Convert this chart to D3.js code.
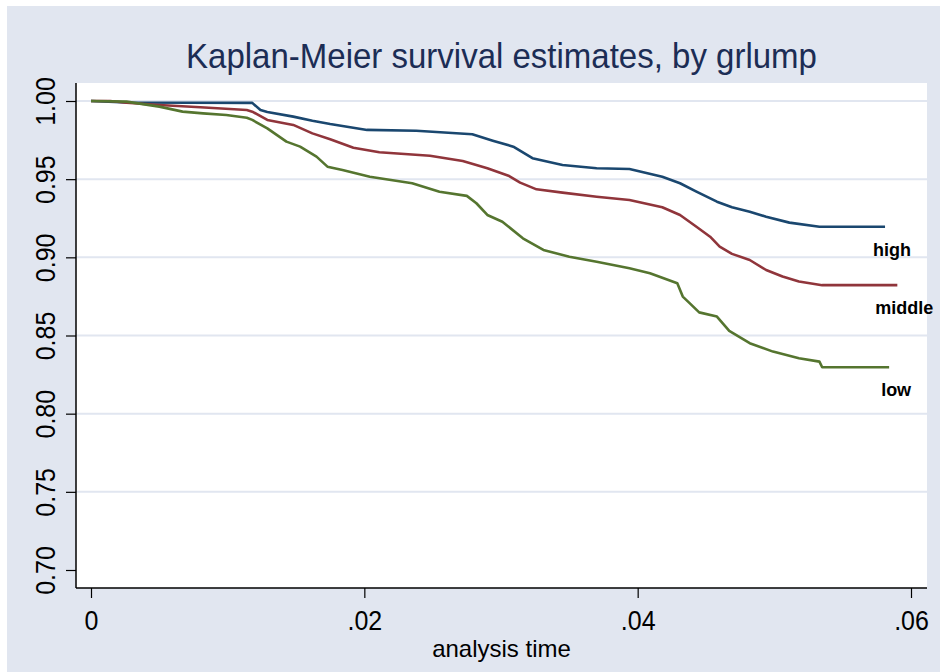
<!DOCTYPE html>
<html>
<head>
<meta charset="utf-8">
<script src="https://cdn.jsdelivr.net/npm/d3@7"></script>
<style>
  body { margin: 0; background: #fff; }
  svg { display: block; }
</style>
</head>
<body>
<div id="km_chart"></div>
<script>
// Survival estimates, by group
const groups = ['high', 'middle', 'low']

const highTime = [0, 0.0026, 0.0118, 0.0124, 0.0129, 0.0148, 0.0162, 0.0175, 0.0202, 0.0238,
  0.0279, 0.0294, 0.0309, 0.0323, 0.0345, 0.0370, 0.0394, 0.0418, 0.0431, 0.0443,
  0.0458, 0.0469, 0.0482, 0.0494, 0.0511, 0.0533, 0.0581]
const highSurv = [1, 0.9990, 0.9988, 0.9942, 0.9930, 0.9900, 0.9874, 0.9853, 0.9815, 0.9810,
  0.9787, 0.9746, 0.9708, 0.9634, 0.9591, 0.9570, 0.9565, 0.9516, 0.9474, 0.9420,
  0.9356, 0.9320, 0.9292, 0.9260, 0.9222, 0.9196, 0.9196]

const middleTime = [0, 0.0014, 0.0026, 0.0050, 0.0080, 0.0114, 0.0118, 0.0129, 0.0148, 0.0162,
  0.0175, 0.0192, 0.0211, 0.0248, 0.0272, 0.0290, 0.0306, 0.0314, 0.0326, 0.0345,
  0.0370, 0.0394, 0.0418, 0.0431, 0.0443, 0.0453, 0.0460, 0.0469, 0.0482, 0.0494,
  0.0506, 0.0518, 0.0535, 0.0590]
const middleSurv = [1, 1, 0.9989, 0.9974, 0.9960, 0.9942, 0.9932, 0.9879, 0.9847, 0.9793,
  0.9755, 0.9701, 0.9672, 0.9650, 0.9616, 0.9570, 0.9520, 0.9478, 0.9435, 0.9414,
  0.9388, 0.9367, 0.9320, 0.9271, 0.9196, 0.9132, 0.9068, 0.9022, 0.8983, 0.8919,
  0.8877, 0.8845, 0.8822, 0.8822]

const lowTime = [0, 0.0026, 0.0050, 0.0067, 0.0082, 0.0099, 0.0114, 0.0118, 0.0129, 0.0143,
  0.0153, 0.0165, 0.0173, 0.0184, 0.0204, 0.0235, 0.0255, 0.0275, 0.0282, 0.0290,
  0.0301, 0.0316, 0.0331, 0.0350, 0.0370, 0.0394, 0.0409, 0.0429, 0.0433, 0.0438,
  0.0445, 0.0458, 0.0467, 0.0482, 0.0499, 0.0518, 0.0533, 0.0535, 0.0584]
const lowSurv = [1, 0.9996, 0.9964, 0.9932, 0.9921, 0.9910, 0.9893, 0.9879, 0.9825, 0.9740,
  0.9708, 0.9644, 0.9580, 0.9559, 0.9516, 0.9474, 0.9420, 0.9393, 0.9346, 0.9271,
  0.9228, 0.9122, 0.9047, 0.9004, 0.8972, 0.8930, 0.8898, 0.8834, 0.8749, 0.8707,
  0.8648, 0.8621, 0.8529, 0.8451, 0.8397, 0.8355, 0.8333, 0.8297, 0.8297]

const xTicks = [0, 0.02, 0.04, 0.06]
const xTickLabels = ['0', '.02', '.04', '.06']
const yTicks = [0.70, 0.75, 0.80, 0.85, 0.90, 0.95, 1.00]
const yTickLabels = ['0.70', '0.75', '0.80', '0.85', '0.90', '0.95', '1.00']
const yGrid = [0.75, 0.80, 0.85, 0.90, 0.95, 1.00]

const series = [
  { name: 'high', time: highTime, surv: highSurv },
  { name: 'middle', time: middleTime, surv: middleSurv },
  { name: 'low', time: lowTime, surv: lowSurv }
]

// Vars for dimensions
const width = 940
const height = 672
const margin = { top: 83, right: 13, bottom: 84, left: 76 }
const innerWidth = width - margin.left - margin.right
const innerHeight = height - margin.top - margin.bottom
const font = "'Liberation Sans', Arial, sans-serif"

const colors = d3.scaleOrdinal().domain(groups).range(['#1a476f', '#90353b', '#55752f'])

const svg = d3.select('#km_chart')
  .append('svg')
  .attr('width', width)
  .attr('height', height)
  .attr('font-family', font)

// Graph region (bluish) with thin white edge top/left
svg.append('rect')
  .attr('x', 7).attr('y', 6)
  .attr('width', width - 7).attr('height', height - 6)
  .attr('fill', '#e1e6f0')

const g = svg.append('g')
  .attr('transform', `translate(${margin.left}, ${margin.top})`)

// Plot region
g.append('rect')
  .attr('width', innerWidth)
  .attr('height', innerHeight)
  .attr('fill', '#fff')

// Scales - ticks sit inset from the plot edges
const xScale = d3.scaleLinear().domain([0, 0.06]).range([15, innerWidth - 16])
const yScale = d3.scaleLinear().domain([0.70, 1.00]).range([487, 18])

// Y gridlines
g.append('g')
  .selectAll('line')
  .data(yGrid)
  .join('line')
  .attr('x1', 0)
  .attr('x2', innerWidth)
  .attr('y1', d => yScale(d))
  .attr('y2', d => yScale(d))
  .attr('stroke', '#e1e6f0')
  .attr('stroke-width', 2)

// Left axis
const yAxis = g.append('g')
  .call(d3.axisLeft(yScale)
    .tickValues(yTicks)
    .tickSize(10)
    .tickFormat((d, i) => yTickLabels[i]))
  .attr('font-family', font)
yAxis.select('.domain').remove()
yAxis.selectAll('.tick line').attr('stroke', '#000').attr('stroke-width', 1.2)
yAxis.selectAll('.tick text')
  .attr('x', null).attr('dy', null)
  .attr('text-anchor', 'middle')
  .attr('transform', 'translate(-21.5,0) rotate(-90) scale(1,1.1)')
  .attr('font-size', 25)
  .attr('fill', '#000')

// Bottom axis
const xAxis = g.append('g')
  .attr('transform', `translate(0, ${innerHeight})`)
  .call(d3.axisBottom(xScale)
    .tickValues(xTicks)
    .tickSize(10)
    .tickFormat((d, i) => xTickLabels[i]))
  .attr('font-family', font)
xAxis.select('.domain').remove()
xAxis.selectAll('.tick line').attr('stroke', '#000').attr('stroke-width', 1.2)
xAxis.selectAll('.tick text')
  .attr('y', null).attr('dy', null)
  .attr('text-anchor', 'middle')
  .attr('transform', 'translate(0,42) scale(1,1.1)')
  .attr('font-size', 25)
  .attr('fill', '#000')

// Axis lines along plot edges
g.append('line')
  .attr('x1', 0).attr('x2', 0)
  .attr('y1', 0).attr('y2', innerHeight)
  .attr('stroke', '#000').attr('stroke-width', 1.5)
g.append('line')
  .attr('x1', 0).attr('x2', innerWidth)
  .attr('y1', innerHeight).attr('y2', innerHeight)
  .attr('stroke', '#000').attr('stroke-width', 1.5)

// Survival lines
const kmLine = d3.line()
  .x(d => xScale(d[0]))
  .y(d => yScale(d[1]))

series.forEach(s => {
  const pts = s.time.map((t, i) => [t, s.surv[i]])
  g.append('path')
    .datum(pts)
    .attr('d', kmLine)
    .attr('fill', 'none')
    .attr('stroke', colors(s.name))
    .attr('stroke-width', 2.6)
    .attr('stroke-linejoin', 'round')
})

// Group labels under the end of each line
series.forEach(s => {
  const n = s.time.length - 1
  g.append('text')
    .attr('x', xScale(s.time[n]) + 7)
    .attr('y', yScale(s.surv[n]) + 29)
    .attr('text-anchor', 'middle')
    .attr('font-size', 18)
    .attr('font-weight', 'bold')
    .attr('fill', '#000')
    .text(s.name)
})

// Title
svg.append('text')
  .attr('transform', `translate(${margin.left + innerWidth / 2}, 68) scale(1,1.06)`)
  .attr('text-anchor', 'middle')
  .attr('font-size', 33)
  .attr('fill', '#1c2d55')
  .text('Kaplan-Meier survival estimates, by grlump')

// X axis title
svg.append('text')
  .attr('x', margin.left + innerWidth / 2)
  .attr('y', 657)
  .attr('text-anchor', 'middle')
  .attr('font-size', 24)
  .attr('fill', '#000')
  .text('analysis time')
</script>
</body>
</html>
